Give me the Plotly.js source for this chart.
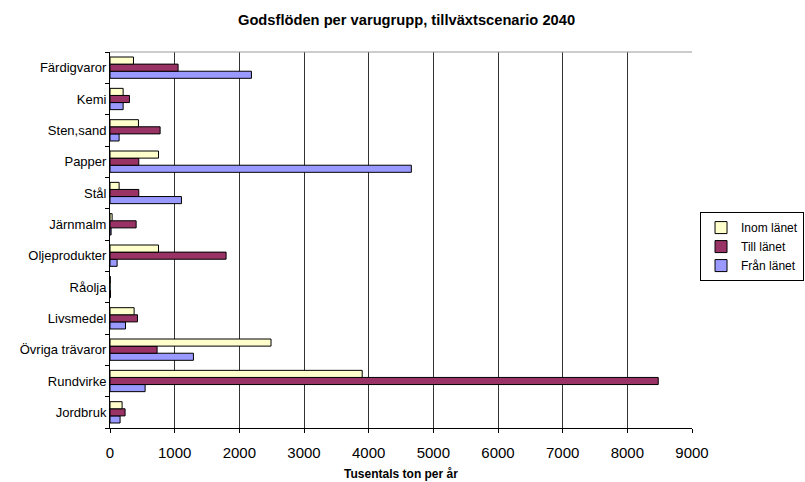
<!DOCTYPE html>
<html>
<head>
<meta charset="utf-8">
<script src="https://cdn.plot.ly/plotly-3.0.1.min.js"></script>
<style>html,body{margin:0;padding:0;background:#fff}#chart{width:805px;height:482px}</style>
</head>
<body>
<div id="chart"></div>
<script>
var categories = ["Jordbruk","Rundvirke","Övriga trävaror","Livsmedel","Råolja","Oljeprodukter","Järnmalm","Stål","Papper","Sten,sand","Kemi","Färdigvaror"];
var inomLanet = [187, 3900, 2490, 373, 5, 750, 33, 141, 750, 440, 203, 363];
var tillLanet = [233, 8478, 728, 425, 0, 1795, 404, 445, 445, 775, 301, 1053];
var franLanet = [156, 543, 1290, 240, 8, 110, 17, 1105, 4660, 141, 203, 2187];
var seriesNames = ["Inom länet", "Till länet", "Från länet"];
var xTicks = [0,1000,2000,3000,4000,5000,6000,7000,8000,9000];

var font = "Liberation Sans, Arial, sans-serif";
function tr(name, vals, color) {
  return {type:"bar", orientation:"h", name:name, y:categories, x:vals,
    marker:{color:color, line:{color:"#000", width:1}}};
}
var data = [
  tr(seriesNames[2], franLanet, "#9999FF"),
  tr(seriesNames[1], tillLanet, "#993366"),
  tr(seriesNames[0], inomLanet, "#FFFFCC")
];
var layout = {
  width:805, height:482,
  margin:{l:110, r:113, t:52, b:54, autoexpand:false},
  paper_bgcolor:"#fff", plot_bgcolor:"#fff",
  barmode:"group", bargap:0.32, bargroupgap:0,
  title:{text:"<b>Godsflöden per varugrupp, tillväxtscenario 2040</b>", font:{family:font, size:14.7, color:"#000"}, x:0.505, xanchor:"center", y:0.958, yanchor:"middle"},
  xaxis:{range:[0,9000], tickvals:xTicks, ticktext:xTicks.map(String),
    showgrid:true, gridcolor:"#333", gridwidth:1, zeroline:false,
    showline:true, linecolor:"#000", linewidth:1, ticks:"outside", ticklen:4, tickcolor:"#000",
    ticklabelstandoff:7,
    tickfont:{family:font, size:15, color:"#000"},
    title:{text:"<b>Tusentals ton per år</b>", font:{family:font, size:12, color:"#000"}, standoff:9}},
  yaxis:{type:"category", categoryorder:"array", categoryarray:categories,
    showline:true, linecolor:"#000", linewidth:1, ticks:"outside", ticklen:4, tickcolor:"#000",
    tickson:"boundaries", showgrid:false,
    tickfont:{family:font, size:13, color:"#000"}},
  legend:{xref:"container", yref:"container", x:0.8696, y:0.56, xanchor:"left", yanchor:"top", traceorder:"reversed",
    bordercolor:"#000", borderwidth:1, bgcolor:"#fff",
    font:{family:font, size:12, color:"#000"}, itemwidth:30, tracegroupgap:0},
  shapes:[{type:"line", xref:"paper", yref:"paper", x0:0, x1:1, y0:1, y1:1, line:{color:"#999", width:1}}]
};
Plotly.newPlot("chart", data, layout, {displayModeBar:false, staticPlot:true});
</script>
</body>
</html>
